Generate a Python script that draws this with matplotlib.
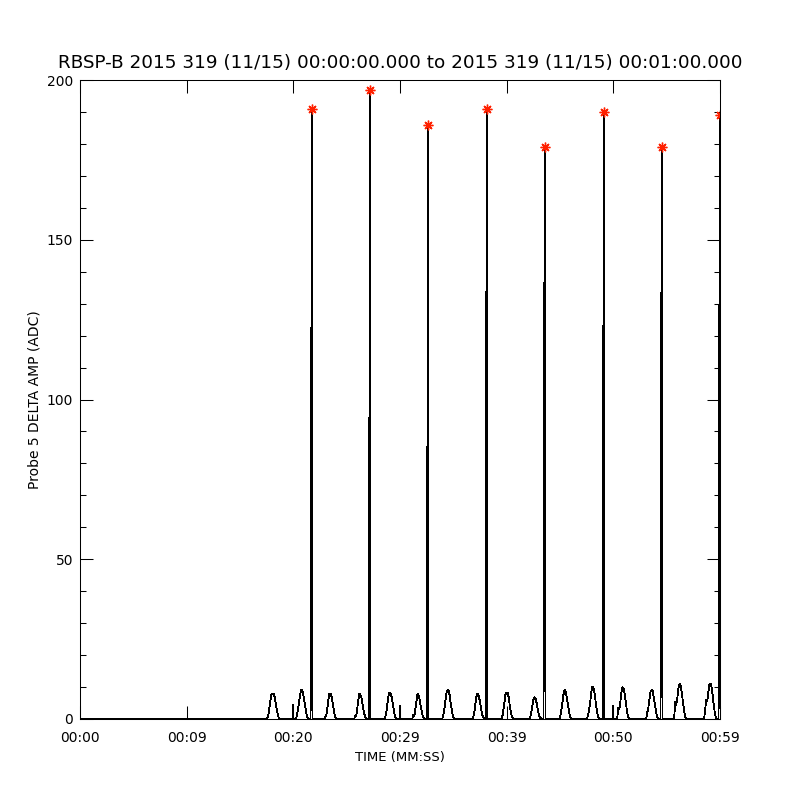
import matplotlib
matplotlib.use("Agg")
import matplotlib.pyplot as plt
import numpy as np

# Probe 5 delta amplitude, RBSP-B 2015-319, first minute (seconds, ADC)
bump_dt = 0.1
bump_starts = [17.54, 20.26, 22.89, 25.70, 28.51, 31.14, 33.95, 36.76,
               39.48, 42.11, 44.92, 47.54, 50.36, 53.08, 55.70, 58.51]
bump_vals = [
    [0, 1.0, 3.0, 5.5, 7.5, 8.0, 8.0, 7.0, 5.0, 3.0, 1.5, 0.3, 0],
    [0, 1.5, 3.5, 6.0, 8.0, 9.1, 8.8, 7.0, 5.0, 3.0, 1.0, 0.2, 0],
    [0, 0.5, 1.0, 3.5, 6.0, 8.0, 8.0, 7.0, 5.0, 3.0, 1.0, 0.2, 0],
    [0, 1.0, 1.0, 3.5, 6.0, 8.0, 7.5, 6.5, 4.5, 2.5, 1.0, 0.2, 0],
    [0, 0.5, 2.0, 4.5, 7.0, 8.2, 8.2, 7.0, 5.0, 3.0, 1.0, 0.2, 0],
    [0, 1.2, 1.0, 3.0, 5.5, 8.0, 7.5, 6.0, 4.0, 2.5, 0.8, 0.2, 0],
    [0, 1.0, 3.0, 5.5, 8.0, 9.1, 9.0, 7.5, 5.0, 3.0, 1.0, 0.2, 0],
    [0, 0.5, 2.0, 4.5, 7.0, 8.0, 7.5, 6.0, 4.0, 2.0, 0.8, 0.2, 0],
    [0, 0.5, 2.5, 5.0, 7.5, 8.2, 8.2, 7.0, 4.5, 2.5, 0.8, 0.2, 0],
    [0, 0.5, 2.0, 4.0, 6.0, 6.8, 6.5, 5.0, 3.0, 1.5, 0.5, 0.2, 0],
    [0, 0.8, 2.5, 5.0, 7.5, 9.1, 8.8, 7.0, 5.0, 3.0, 1.0, 0.2, 0],
    [0, 1.5, 3.0, 5.5, 8.5, 10.1, 9.8, 8.0, 5.5, 3.0, 1.0, 0.2, 0],
    [0, 3.5, 3.0, 5.5, 8.5, 10.0, 9.5, 8.0, 5.5, 3.0, 1.0, 0.2, 0],
    [0, 2.0, 3.5, 6.0, 8.5, 9.1, 9.0, 7.0, 5.0, 3.0, 1.0, 0.2, 0],
    [0, 5.3, 4.5, 6.5, 9.5, 11.0, 10.5, 8.5, 6.0, 3.5, 1.2, 0.2, 0],
    [0, 3.0, 6.0, 5.5, 8.5, 10.8, 11.1, 10.0, 7.5, 4.5, 2.0, 0.3, 0],
]

# short glitches
glitch_times = [20.0, 30.0, 50.0]
glitch_vals = [4.4, 4.1, 4.2]

# big spikes: peak time, peak value, and the two samples on the way up
spike_times = [21.75, 27.19, 32.63, 38.16, 43.59, 49.13, 54.56, 60.0]
spike_peaks = [191, 197, 186, 191, 179, 190, 179, 189]
spike_mid = [143, 109, 102, 150, 143, 154, 148, 150]
spike_low = [47, 50, 50, 103, 95, 59, 58, 55]
spike_dt = 0.045

xtick_pos = [0, 10, 20, 30, 40, 50, 60]
xtick_labels = ["00:00", "00:09", "00:20", "00:29", "00:39", "00:50", "00:59"]

# assemble the time series
t = [0.0]
v = [0.0]
for s, vals in zip(bump_starts, bump_vals):
    t += [s + bump_dt * i for i in range(len(vals))]
    v += vals
for g, gv in zip(glitch_times, glitch_vals):
    t += [g - 0.02, g, g + 0.02]
    v += [0, gv, 0]
for st, pk, md, lo in zip(spike_times, spike_peaks, spike_mid, spike_low):
    t += [st + spike_dt * k for k in (-3, -2, -1, 0, 1)]
    v += [0, lo, md, pk, 0]
order = np.argsort(t, kind="stable")
t = np.array(t)[order]
v = np.array(v)[order]

plt.rcParams["font.family"] = "DejaVu Sans"
fig = plt.figure(figsize=(8, 8), dpi=100)
ax = fig.add_axes([0.1, 0.10125, 0.8, 0.79875])

ax.plot(t, v, color="black", lw=0.6, antialiased=False)
ax.plot(spike_times, spike_peaks, linestyle="none", marker=(8, 2, 0),
        markersize=7, markeredgewidth=1.0, color="#ff2000")

ax.set_xlim(0, 60)
ax.set_ylim(0, 200)
ax.set_xticks(xtick_pos)
ax.set_xticklabels(xtick_labels)
ax.set_yticks([0, 50, 100, 150, 200])
ax.set_yticks(np.arange(0, 201, 10), minor=True)

ax.tick_params(axis="both", which="both", direction="in", top=True, right=True,
               width=0.75, labelsize=10)
ax.tick_params(axis="x", which="major", length=9.5, pad=9)
ax.tick_params(axis="y", which="major", length=9.5, pad=5)
ax.tick_params(axis="y", which="minor", length=4.3)
for sp in ax.spines.values():
    sp.set_linewidth(0.75)

ax.set_xlabel("TIME (MM:SS)", fontsize=9.5, labelpad=4)
ax.set_ylabel("Probe 5 DELTA AMP (ADC)", fontsize=10, labelpad=4)
ax.set_title("RBSP-B 2015 319 (11/15) 00:00:00.000 to 2015 319 (11/15) 00:01:00.000",
             fontsize=13.2, pad=9)

fig.savefig("out.png", dpi=100, facecolor="white")
